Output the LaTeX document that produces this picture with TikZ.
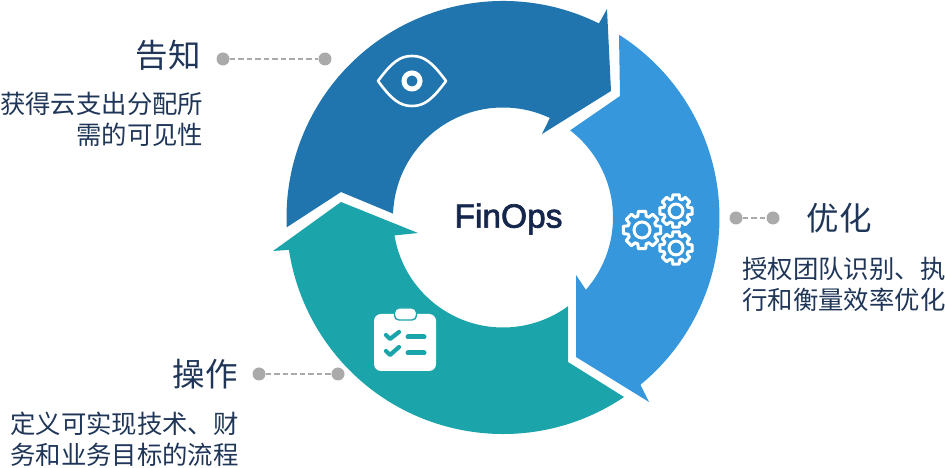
\documentclass[tikz,border=0pt]{standalone}
\usepackage{fontspec}
\newfontfamily\cjk{Noto Sans CJK SC}
\newfontfamily\finfont[FakeBold=2]{Liberation Sans}
\usetikzlibrary{positioning}
\definecolor{ringdark}{RGB}{33,117,174}
\definecolor{ringlight}{RGB}{55,151,220}
\definecolor{ringteal}{RGB}{27,165,171}
\definecolor{dotgray}{RGB}{170,170,170}
\definecolor{textnavy}{RGB}{31,54,88}
\definecolor{finnavy}{RGB}{20,38,75}
\tikzset{
  leaderdot/.style={circle, fill=dotgray, minimum size=13pt, inner sep=0pt},
  leaderline/.style={draw=dotgray, line width=1.6pt, dash pattern=on 5.5pt off 3pt},
  headtext/.style={font=\cjk\fontsize{32.5}{32.5}\selectfont, text=textnavy, inner sep=0pt},
  bodytext/.style={font=\cjk\fontsize{25.4}{31}\selectfont, text=textnavy, inner sep=0pt},
  gearicon/.pic={
    \foreach \a in {0,45,...,315}{
      \draw[white, line width=3pt, line cap=round, line join=round]
        ({\a-11}:1) -- ({\a+11}:1) -- ({\a+17}:.76) arc[start angle=\a+17, end angle=\a+28, radius=.76] -- ({\a+34}:1);
    }
    \draw[white, line width=3pt] (0,0) circle (.42);
  }
}
\begin{document}
\begin{tikzpicture}[x=1pt, y=1pt]
  \useasboundingbox (0,0) rectangle (945,468);

  % ring
  \begin{scope}[shift={(503,250.5)}]
    \fill[ringdark] (182.6:216.5) -- (-162,25.5) -- (178:110) arc[start angle=178, end angle=64.8, radius=110] -- (39,83.5) -- (108,126.5) -- (104,208.5) -- (63.7:216.5) arc[start angle=63.7, end angle=182.6, radius=216.5] -- cycle;
    \fill[ringlight] (57.6:216.5) arc[start angle=57.6, end angle=-50.6, radius=216.5] -- (146,-184.5) -- (73,-139.5) -- (73,-57.5) -- (-41.1:110) arc[start angle=-41.1, end angle=52.4, radius=110] -- (117,121.5) -- cycle;
    \fill[ringteal] (-53.7:110) -- (65,-144.5) -- (-56:216.5) arc[start angle=-56, end angle=-171.4, radius=216.5] -- (-230,-33.5) -- (-162,15.5) -- (-85,-15.5) -- (-170.6:110) arc[start angle=-170.6, end angle=-53.7, radius=110] -- cycle;
  \end{scope}

  \node[font=\finfont\fontsize{33.5}{33.5}\selectfont, text=finnavy, inner sep=0pt] (finops) at (508.5,249) {FinOps};

  % eye
  \draw[white, line width=2.6pt, line join=round] (378,387) .. controls (392,368) and (400,362) .. (412,362) .. controls (424,362) and (432,368) .. (446,387) .. controls (432,406) and (424,412) .. (412,412) .. controls (400,412) and (392,406) .. (378,387) -- cycle;
  \draw[white, line width=5pt] (412,387) circle (8);

  % gears
  \pic[scale=19] at (642,238) {gearicon};
  \pic[scale=16.5] at (676,257) {gearicon};
  \pic[scale=16.5] at (676,220) {gearicon};

  % clipboard
  \fill[white, rounded corners=7pt] (374,97) rectangle (436,154);
  \draw[ringteal, fill=white, line width=1.4pt, rounded corners=4.5pt] (394.5,148) rectangle (416.5,160);
  \draw[ringteal, line width=4.2pt, line cap=round, line join=round] (386,133) -- (390,129) -- (399,136);
  \draw[ringteal, line width=4.2pt, line cap=round, line join=round] (386,117) -- (390,113) -- (399,121);
  \draw[ringteal, line width=5pt, line cap=round] (408,131) -- (424,131);
  \draw[ringteal, line width=5pt, line cap=round] (408,115) -- (424,115);

  % labels
  \node[headtext, anchor=east] (inform) at (201,413) {告知};
  \node[bodytext, anchor=north east, align=right] (informtext) at (203.5,376) {获得云支出分配所\\需的可见性};
  \node[headtext, anchor=west] (optimize) at (806.5,250) {优化};
  \node[bodytext, anchor=north west, align=left] (optimizetext) at (742,211) {授权团队识别、执\\行和衡量效率优化};
  \node[headtext, anchor=east] (operate) at (238,94) {操作};
  \node[bodytext, anchor=north east, align=right] (operatetext) at (239,56) {定义可实现技术、财\\务和业务目标的流程};

  % leaders
  \node[leaderdot] (informa) at (223,409) {};
  \node[leaderdot] (informb) at (325,409) {};
  \draw[leaderline] (informa) -- (informb);
  \node[leaderdot] (optimizea) at (736,250) {};
  \node[leaderdot] (optimizeb) at (773,250) {};
  \draw[leaderline] (optimizea) -- (optimizeb);
  \node[leaderdot] (operatea) at (259,94) {};
  \node[leaderdot] (operateb) at (338,94) {};
  \draw[leaderline] (operatea) -- (operateb);
\end{tikzpicture}
\end{document}
